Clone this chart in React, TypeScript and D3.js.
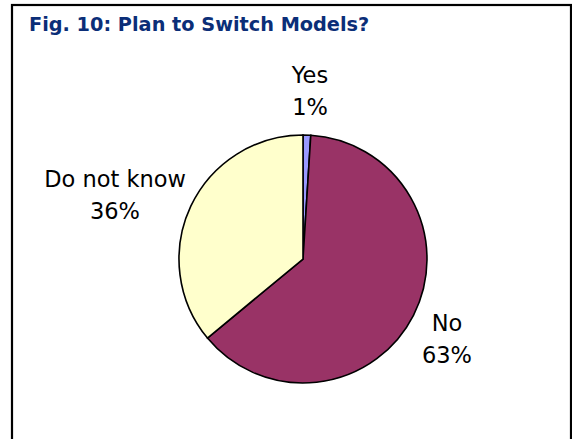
import React from "react";
import * as d3 from "d3";

const categories = ["Yes", "No", "Do not know"];
const values = [1, 63, 36];
const labels = ["1%", "63%", "36%"];
const colors = ["#9999FF", "#993366", "#FFFFCC"];
const title = "Fig. 10: Plan to Switch Models?";

export default function App() {
  const W = 572, H = 439;
  const cx = 303, cy = 259, r = 124;
  const pie = d3.pie<number>().sort(null).value((d) => d)(values);
  const arc = d3.arc<d3.PieArcDatum<number>>().innerRadius(0).outerRadius(r);
  // [center x, baseline of first line]
  const labelPos: [number, number][] = [
    [310, 83],
    [447, 331],
    [115, 187],
  ];
  return (
    <svg width={W} height={H} style={{ position: "absolute", left: 0, top: 0, background: "#fff" }}>
      <rect x={12} y={5} width={559} height={460} fill="#fff" stroke="#000" strokeWidth={2.2} />
      <text x={29} y={31} fontFamily="DejaVu Sans" fontWeight="bold" fontSize={19.3} fill="#0B2E78">
        {title}
      </text>
      <g transform={`translate(${cx},${cy})`}>
        {pie.map((p, i) => (
          <path key={categories[i]} d={arc(p) || ""} fill={colors[i]} stroke="#000" strokeWidth={1.6} />
        ))}
      </g>
      {pie.map((p, i) => (
        <text key={"l" + i} fontFamily="DejaVu Sans" fontSize={22.5} fill="#000" textAnchor="middle">
          <tspan x={labelPos[i][0]} y={labelPos[i][1]}>{categories[i]}</tspan>
          <tspan x={labelPos[i][0]} y={labelPos[i][1] + 32}>{labels[i]}</tspan>
        </text>
      ))}
    </svg>
  );
}
